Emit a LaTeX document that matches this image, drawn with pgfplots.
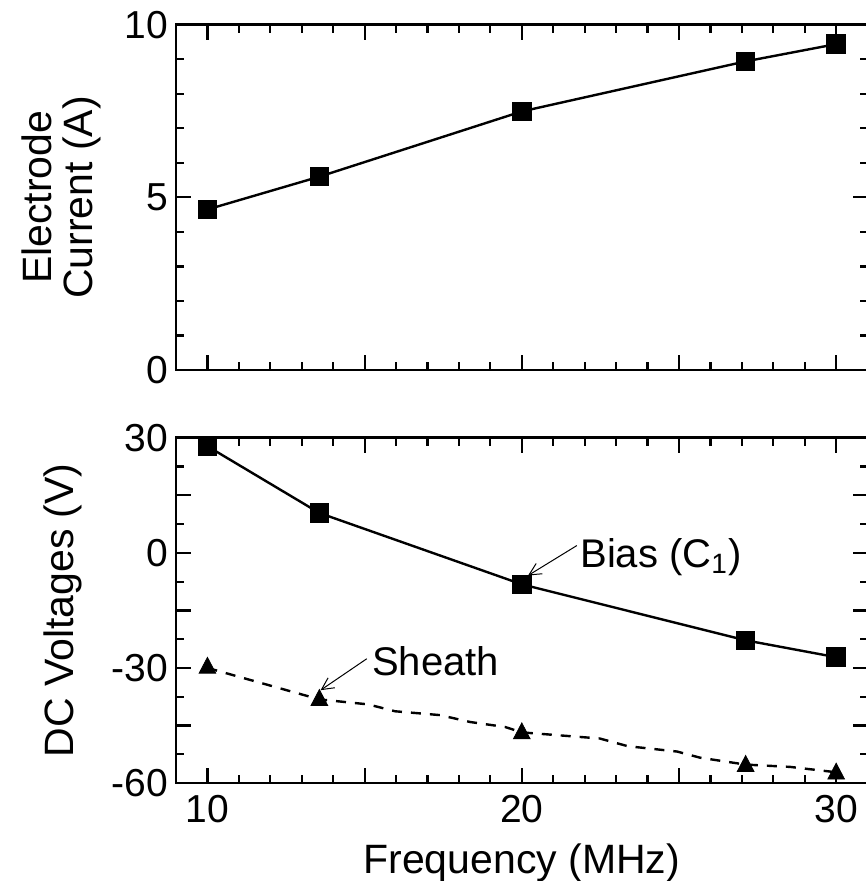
\documentclass[border=0pt]{standalone}
\usepackage{fontspec}
\setmainfont{Liberation Sans}
\usepackage{pgfplots}
\pgfplotsset{compat=1.18}
\usetikzlibrary{arrows.meta}
\begin{document}
\begin{tikzpicture}
\useasboundingbox (-88pt,-49pt) rectangle (344.5pt,391.5pt);
\pgfplotsset{
  myaxis/.style={
    scale only axis, width=345.8pt, height=172.6pt,
    xmin=9, xmax=31,
    xtick={10,15,20,25,30}, minor x tick num=4,
    tick align=inside, xtick pos=both, ytick pos=both,
    major tick length=7.5pt, minor tick length=4pt,
    axis line style={line width=1.45pt},
    every tick/.append style={line width=1.1pt, black},
    tick label style={font=\fontsize{19.5}{22}\selectfont},
    /pgf/number format/assume math mode=true,
    yticklabel style={inner xsep=3.9pt},
    xticklabel style={inner ysep=6pt},
  },
}
\begin{axis}[myaxis, at={(0pt,206.5pt)}, anchor=south west,
  ymin=0, ymax=10, ytick={0,5,10}, minor y tick num=4,
  xticklabels={},
  ylabel={Electrode\\Current (A)},
  every axis y label/.style={at={(axis description cs:0,0.5)}, rotate=90, anchor=north, inner sep=0pt, yshift=77.3pt, align=center, font=\fontsize{20.5}{20.5}\selectfont},
]
\addplot[black, line width=1.2pt, mark=square*, mark size=4.3pt, mark options={solid}] coordinates {
(10,4.65) (13.56,5.60) (20,7.49) (27.12,8.94) (30,9.44)};
\end{axis}
\begin{axis}[myaxis, at={(0pt,0pt)}, anchor=south west,
  ymin=-60, ymax=30, ytick={-60,-45,-30,-15,0,15,30}, minor y tick num=1,
  yticklabels={-60,,-30,,0,,30},
  xticklabels={10,,20,,30},
  xlabel={Frequency (MHz)},
  every axis x label/.style={at={(axis description cs:0.5,0)}, anchor=base, yshift=-45.2pt, font=\fontsize{20.5}{24}\selectfont},
  ylabel={DC Voltages (V)},
  every axis y label/.style={at={(axis description cs:0,0.5)}, rotate=90, anchor=north, inner sep=0pt, yshift=66.5pt, font=\fontsize{20.5}{24}\selectfont},
]
\addplot[black, line width=1.2pt, mark=square*, mark size=4.3pt, mark options={solid}] coordinates {
(10,27.8) (13.56,10.4) (20,-8.2) (27.12,-22.8) (30,-27.2)};
\addplot[black, line width=1.2pt, dash pattern=on 5pt off 4.5pt] coordinates {
(10,-30.0) (13.56,-38.2) (15.11,-39.5) (15.97,-41.3) (17.4,-42.3) (18.36,-44.1) (19.47,-45.4) (20,-46.8)
(22.48,-48.4) (23.37,-50.4) (24.94,-51.8) (25.67,-53.4) (27.12,-55.2) (28.53,-55.8) (30,-57.2)};
\addplot[only marks, black, mark=triangle*, mark size=4.8pt, mark options={yscale=1.1}] coordinates {
(10,-30.0) (13.56,-38.4) (20,-47.1) (27.12,-55.6) (30,-57.6)};
\draw[black, line width=0.5pt, -{Straight Barb[length=6pt,width=6pt]}] (axis cs:21.75,1.9) -- (axis cs:20.2,-5.9);
\node[anchor=base west, inner sep=0pt, font=\fontsize{20}{24}\selectfont] at (axis cs:21.85,-3.74) {Bias (C\textsubscript{1})};
\draw[black, line width=0.5pt, -{Straight Barb[length=6pt,width=6pt]}] (axis cs:15.07,-27.6) -- (axis cs:13.6,-35.8);
\node[anchor=base west, inner sep=0pt, font=\fontsize{20}{24}\selectfont] at (axis cs:15.23,-31.9) {Sheath};
\end{axis}
\end{tikzpicture}
\end{document}
